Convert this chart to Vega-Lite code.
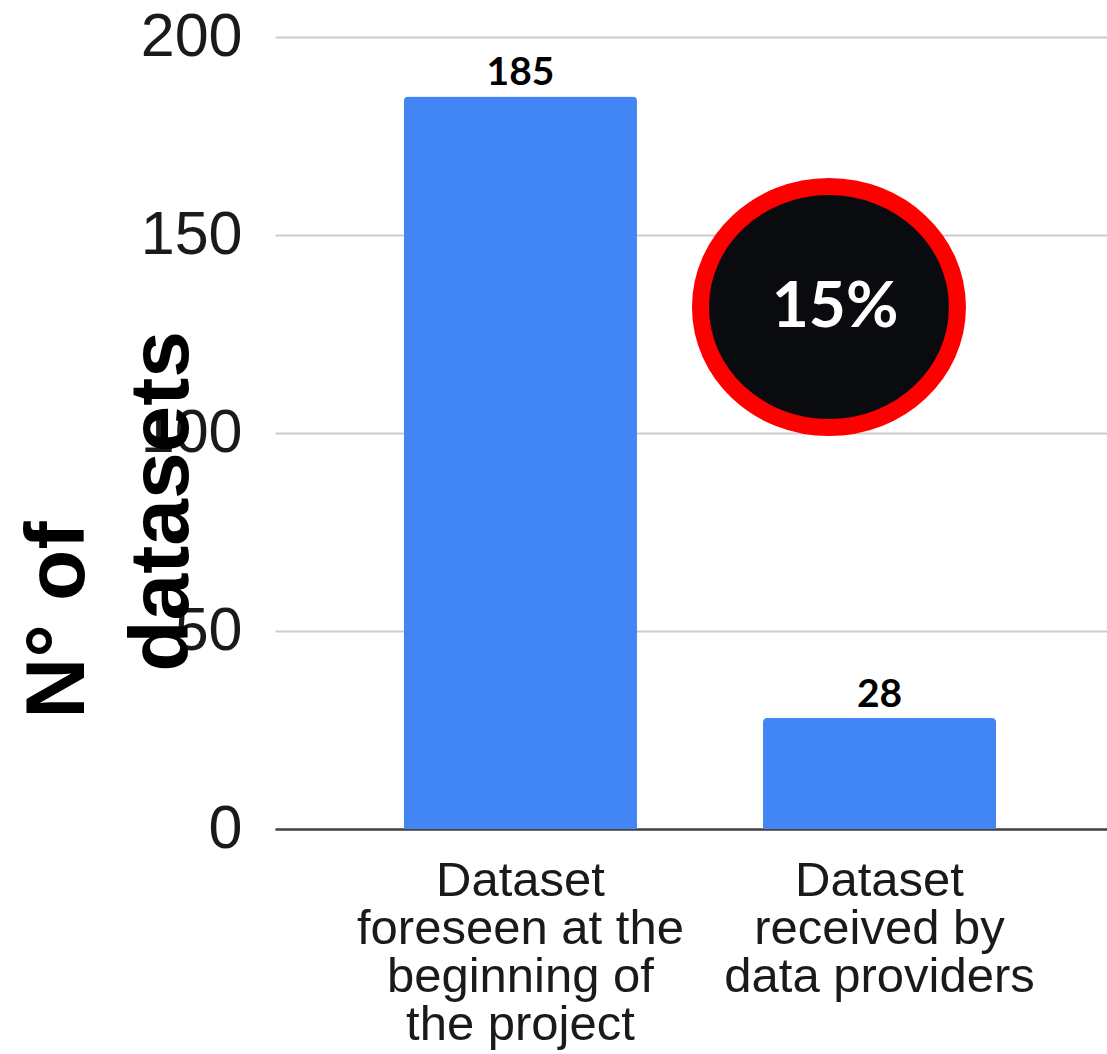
{
  "$schema": "https://vega.github.io/schema/vega-lite/v6.json",
  "autosize": {"type": "none"},
  "padding": {"left": 275, "top": 37, "right": 0, "bottom": 225},
  "width": 832,
  "height": 792,
  "background": "white",
  "config": {"view": {"stroke": null}},
  "datasets": {
    "bars": [
      {"category": "Dataset foreseen at the beginning of the project", "count": 185},
      {"category": "Dataset received by data providers", "count": 28}
    ],
    "note": [
      {"category": "Dataset received by data providers", "label": "15%", "y": 131.8, "ty": 126.8}
    ]
  },
  "layer": [
    {
      "data": {"name": "bars"},
      "mark": {"type": "bar", "color": "#4285F4", "cornerRadiusTopLeft": 4, "cornerRadiusTopRight": 4},
      "encoding": {
        "x": {
          "field": "category", "type": "nominal",
          "scale": {"domain": ["Dataset foreseen at the beginning of the project", "Dataset received by data providers"], "paddingInner": 0.351, "paddingOuter": 0.334, "align": 0.5375},
          "axis": {
            "title": null,
            "labelAngle": 0,
            "labelExpr": "datum.value == 'Dataset received by data providers' ? ['Dataset', 'received by', 'data providers'] : ['Dataset', 'foreseen at the', 'beginning of', 'the project']",
            "labelFont": "Liberation Sans",
            "labelFontSize": 49,
            "labelColor": "#1a1a1a",
            "labelLineHeight": 48.3,
            "labelBaseline": "alphabetic",
            "labelPadding": 66,
            "labelLimit": 600,
            "labelOverlap": false,
            "labelFlush": false,
            "ticks": false,
            "tickSize": 0,
            "domain": true,
            "domainColor": "#444444",
            "domainWidth": 2.5,
            "grid": false
          }
        },
        "y": {
          "field": "count", "type": "quantitative",
          "scale": {"domain": [0, 200], "nice": false},
          "axis": {
            "values": [0, 50, 100, 150, 200],
            "title": ["N° of", "\u200b\u00a0\u00a0datasets"],
            "titleFont": "Liberation Sans",
            "titleFontSize": 84,
            "titleFontWeight": "bold",
            "titleColor": "#000000",
            "titleAngle": 270,
            "titleAlign": "left",
            "titleBaseline": "alphabetic",
            "titleLineHeight": 104,
            "titleX": -192,
            "titleY": 681,
            "labelFont": "Liberation Sans",
            "labelFontSize": 61,
            "labelColor": "#1a1a1a",
            "labelPadding": 33,
            "ticks": false,
            "tickSize": 0,
            "domain": false,
            "grid": true,
            "gridColor": "#cccccc",
            "gridWidth": 2
          }
        }
      }
    },
    {
      "data": {"name": "bars"},
      "mark": {"type": "text", "font": "Lato", "fontSize": 39, "fontWeight": "bold", "color": "#000000", "baseline": "alphabetic", "align": "center", "dy": -11},
      "encoding": {
        "x": {"field": "category", "type": "nominal"},
        "y": {"field": "count", "type": "quantitative"},
        "text": {"field": "count", "type": "quantitative"}
      }
    },
    {
      "data": {"name": "note"},
      "mark": {
        "type": "point",
        "shape": "M 1 0 C 1 0.518 0.5523 0.938 0 0.938 C -0.5523 0.938 -1 0.518 -1 0 C -1 -0.518 -0.5523 -0.938 0 -0.938 C 0.5523 -0.938 1 -0.518 1 0 Z",
        "size": 66049,
        "filled": true,
        "fill": "#0a0b0f",
        "stroke": "#ff0000",
        "strokeWidth": 17,
        "opacity": 1,
        "fillOpacity": 1,
        "strokeOpacity": 1
      },
      "encoding": {
        "x": {"field": "category", "type": "nominal", "bandPosition": 0.283},
        "y": {"field": "y", "type": "quantitative"}
      }
    },
    {
      "data": {"name": "note"},
      "mark": {"type": "text", "font": "Lato", "fontSize": 64, "fontWeight": "bold", "color": "#ffffff", "baseline": "alphabetic", "align": "center"},
      "encoding": {
        "x": {"field": "category", "type": "nominal", "bandPosition": 0.309},
        "y": {"field": "ty", "type": "quantitative"},
        "text": {"field": "label", "type": "nominal"}
      }
    }
  ]
}
